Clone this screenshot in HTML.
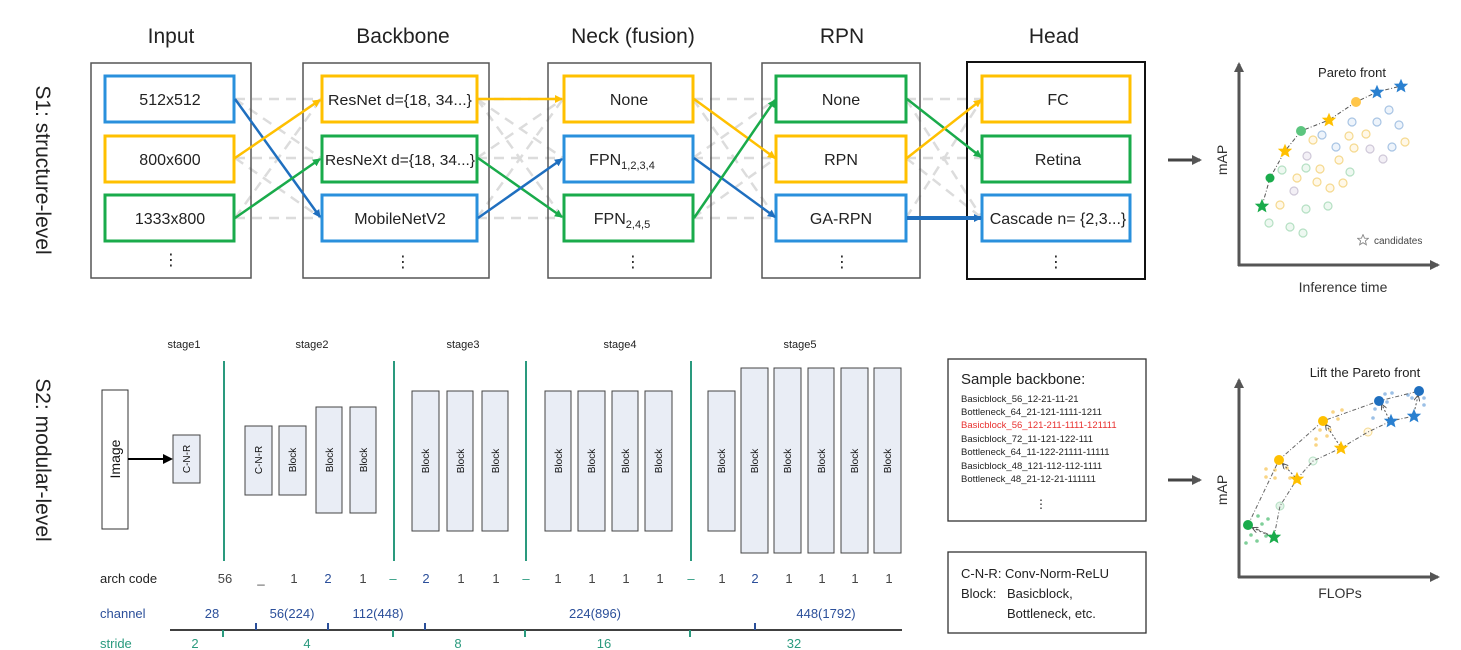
<!DOCTYPE html>
<html><head><meta charset="utf-8"><style>
body{margin:0;background:#fff;}
svg{display:block;font-family:"Liberation Sans","DejaVu Sans",sans-serif;}
</style></head><body>
<svg width="1461" height="650" viewBox="0 0 1461 650" xmlns="http://www.w3.org/2000/svg">
<defs>
<marker id="ab" markerWidth="8" markerHeight="8" refX="7" refY="4" orient="auto" markerUnits="userSpaceOnUse"><path d="M0,0 L8,4 L0,8 z" fill="#1f6fbf"/></marker>
<marker id="ay" markerWidth="8" markerHeight="8" refX="7" refY="4" orient="auto" markerUnits="userSpaceOnUse"><path d="M0,0 L8,4 L0,8 z" fill="#ffc000"/></marker>
<marker id="ag" markerWidth="8" markerHeight="8" refX="7" refY="4" orient="auto" markerUnits="userSpaceOnUse"><path d="M0,0 L8,4 L0,8 z" fill="#1aab4b"/></marker>
<marker id="ak" markerWidth="10" markerHeight="10" refX="8" refY="5" orient="auto" markerUnits="userSpaceOnUse"><path d="M0,0 L10,5 L0,10 z" fill="#555"/></marker>
<marker id="ad" markerWidth="6" markerHeight="6" refX="5" refY="3" orient="auto" markerUnits="userSpaceOnUse"><path d="M0,0 L6,3 L0,6" fill="none" stroke="#555"/></marker>
<marker id="a0" markerWidth="10" markerHeight="10" refX="8" refY="5" orient="auto" markerUnits="userSpaceOnUse"><path d="M0,0 L10,5 L0,10 z" fill="#000"/></marker>
<symbol id="st" viewBox="-10 -10 20 20"><polygon points="0,-9 2.6,-3 9,-2.8 4,1.5 5.6,8 0,4.5 -5.6,8 -4,1.5 -9,-2.8 -2.6,-3"/></symbol>
</defs>

<g font-size="21" text-anchor="middle" fill="#222">
<text x="171" y="43">Input</text><text x="403" y="43">Backbone</text><text x="633" y="43">Neck (fusion)</text><text x="842" y="43">RPN</text><text x="1054" y="43">Head</text>
</g>
<text transform="translate(36,170) rotate(90)" font-size="21" text-anchor="middle" fill="#222">S1: structure-level</text>
<text transform="translate(36,460) rotate(90)" font-size="21" text-anchor="middle" fill="#222">S2: modular-level</text>

<g stroke="#dcdcdc" stroke-width="2.5" stroke-dasharray="10,7" fill="none">
<path d="M235,99H321 M235,158H321 M235,218H321 M235,99L321,158 M235,158L321,218 M235,218L321,99 M235,158L321,99"/>
<path d="M477,99H563 M477,158H563 M477,218H563 M477,99L563,158 M477,158L563,99 M477,218L563,99 M477,99L563,218"/>
<path d="M693,99H776 M693,158H776 M693,218H776 M693,99L776,218 M693,218L776,158 M693,158L776,99"/>
<path d="M906,99H982 M906,158H982 M906,99L982,218 M906,218L982,99 M906,158L982,218"/>
</g>

<g fill="none" stroke="#555" stroke-width="1.5">
<rect x="91" y="63" width="160" height="215"/>
<rect x="303" y="63" width="186" height="215"/>
<rect x="548" y="63" width="163" height="215"/>
<rect x="762" y="63" width="158" height="215"/>
</g>
<rect x="967" y="62" width="178" height="217" fill="none" stroke="#111" stroke-width="2"/>

<g fill="#fff" stroke-width="3">
<rect x="105" y="76" width="129" height="46" stroke="#2a90dc"/>
<rect x="105" y="136" width="129" height="46" stroke="#ffc000"/>
<rect x="105" y="195" width="129" height="46" stroke="#1aab4b"/>
<rect x="322" y="76" width="155" height="46" stroke="#ffc000"/>
<rect x="322" y="136" width="155" height="46" stroke="#1aab4b"/>
<rect x="322" y="195" width="155" height="46" stroke="#2a90dc"/>
<rect x="564" y="76" width="129" height="46" stroke="#ffc000"/>
<rect x="564" y="136" width="129" height="46" stroke="#2a90dc"/>
<rect x="564" y="195" width="129" height="46" stroke="#1aab4b"/>
<rect x="776" y="76" width="130" height="46" stroke="#1aab4b"/>
<rect x="776" y="136" width="130" height="46" stroke="#ffc000"/>
<rect x="776" y="195" width="130" height="46" stroke="#2a90dc"/>
<rect x="982" y="76" width="148" height="46" stroke="#ffc000"/>
<rect x="982" y="136" width="148" height="46" stroke="#1aab4b"/>
<rect x="982" y="195" width="148" height="46" stroke="#2a90dc"/>
</g>
<g font-size="16" text-anchor="middle" fill="#222">
<text x="170" y="105">512x512</text><text x="170" y="165">800x600</text><text x="170" y="224">1333x800</text>
<text x="400" y="105" font-size="15" textLength="144" lengthAdjust="spacingAndGlyphs">ResNet d={18, 34...}</text>
<text x="400" y="165" font-size="15" textLength="150" lengthAdjust="spacingAndGlyphs">ResNeXt d={18, 34...}</text>
<text x="400" y="224">MobileNetV2</text>
<text x="629" y="105">None</text>
<text x="622" y="165">FPN<tspan font-size="11" dy="4">1,2,3,4</tspan></text>
<text x="622" y="224">FPN<tspan font-size="11" dy="4">2,4,5</tspan></text>
<text x="841" y="105">None</text><text x="841" y="165">RPN</text><text x="841" y="224">GA-RPN</text>
<text x="1058" y="105">FC</text><text x="1058" y="165">Retina</text><text x="1058" y="224">Cascade n= {2,3...}</text>
<text x="171" y="265">⋮</text><text x="403" y="267">⋮</text><text x="633" y="267">⋮</text><text x="842" y="267">⋮</text><text x="1056" y="267">⋮</text>
</g>

<g stroke-width="2.5" fill="none">
<line x1="235" y1="99" x2="320" y2="217" stroke="#1f6fbf" marker-end="url(#ab)"/>
<line x1="235" y1="158" x2="320" y2="100" stroke="#ffc000" marker-end="url(#ay)"/>
<line x1="235" y1="218" x2="320" y2="159" stroke="#1aab4b" marker-end="url(#ag)"/>
<line x1="478" y1="99" x2="562" y2="99" stroke="#ffc000" marker-end="url(#ay)"/>
<line x1="478" y1="158" x2="562" y2="217" stroke="#1aab4b" marker-end="url(#ag)"/>
<line x1="478" y1="218" x2="562" y2="159" stroke="#1f6fbf" marker-end="url(#ab)"/>
<line x1="694" y1="99" x2="775" y2="158" stroke="#ffc000" marker-end="url(#ay)"/>
<line x1="694" y1="158" x2="775" y2="217" stroke="#1f6fbf" marker-end="url(#ab)"/>
<line x1="694" y1="218" x2="775" y2="100" stroke="#1aab4b" marker-end="url(#ag)"/>
<line x1="907" y1="99" x2="981" y2="157" stroke="#1aab4b" marker-end="url(#ag)"/>
<line x1="907" y1="158" x2="981" y2="100" stroke="#ffc000" marker-end="url(#ay)"/>
<line x1="907" y1="218" x2="981" y2="218" stroke="#1f6fbf" stroke-width="4" marker-end="url(#ab)"/>
</g>

<line x1="1168" y1="160" x2="1200" y2="160" stroke="#444" stroke-width="3" marker-end="url(#ak)"/>
<line x1="1168" y1="480" x2="1200" y2="480" stroke="#444" stroke-width="3" marker-end="url(#ak)"/>

<g stroke="#555" stroke-width="3" fill="none">
<line x1="1239" y1="266" x2="1239" y2="64" marker-end="url(#ak)"/>
<line x1="1238" y1="265" x2="1438" y2="265" marker-end="url(#ak)"/>
</g>
<text x="1352" y="77" font-size="13" text-anchor="middle" fill="#222">Pareto front</text>
<text transform="translate(1227,160) rotate(-90)" font-size="14" text-anchor="middle" fill="#333">mAP</text>
<text x="1343" y="292" font-size="14" text-anchor="middle" fill="#333">Inference time</text>
<g fill="none" stroke-width="1.2">
<g stroke="#a8c4e4" fill="#eef4fb">
<circle cx="1389" cy="110" r="4"/><circle cx="1352" cy="122" r="4"/><circle cx="1377" cy="122" r="4"/><circle cx="1399" cy="125" r="4"/><circle cx="1322" cy="135" r="4"/><circle cx="1336" cy="147" r="4"/><circle cx="1392" cy="147" r="4"/></g>
<g stroke="#f5d98f" fill="#fff8e8">
<circle cx="1313" cy="140" r="4"/><circle cx="1349" cy="136" r="4"/><circle cx="1366" cy="134" r="4"/><circle cx="1354" cy="148" r="4"/><circle cx="1405" cy="142" r="4"/><circle cx="1339" cy="160" r="4"/><circle cx="1320" cy="169" r="4"/><circle cx="1297" cy="178" r="4"/><circle cx="1317" cy="182" r="4"/><circle cx="1330" cy="188" r="4"/><circle cx="1343" cy="183" r="4"/><circle cx="1280" cy="205" r="4"/></g>
<g stroke="#cfc8d8" fill="#f3f0f6"><circle cx="1370" cy="149" r="4"/><circle cx="1383" cy="159" r="4"/><circle cx="1307" cy="156" r="4"/><circle cx="1294" cy="191" r="4"/></g>
<g stroke="#b5e0c3" fill="#eef8f1">
<circle cx="1282" cy="170" r="4"/><circle cx="1306" cy="168" r="4"/><circle cx="1350" cy="172" r="4"/><circle cx="1306" cy="209" r="4"/><circle cx="1328" cy="206" r="4"/><circle cx="1269" cy="223" r="4"/><circle cx="1290" cy="227" r="4"/><circle cx="1303" cy="233" r="4"/></g>
</g>
<path d="M1262,206 L1270,178 L1285,151 L1301,131 L1329,120 L1356,102 L1377,92 L1401,86" fill="none" stroke="#555" stroke-width="1" stroke-dasharray="4,2,1,2"/>
<circle cx="1270" cy="178" r="4.5" fill="#1aab4b"/><circle cx="1301" cy="131" r="5" fill="#5cc57f"/><circle cx="1356" cy="102" r="5" fill="#ffc64a"/>
<use href="#st" x="1254" y="198" width="16" height="16" fill="#1aab4b"/>
<use href="#st" x="1277" y="143" width="16" height="16" fill="#ffc000"/>
<use href="#st" x="1321" y="112" width="16" height="16" fill="#ffc000"/>
<use href="#st" x="1369" y="84" width="16" height="16" fill="#2a80d0"/>
<use href="#st" x="1393" y="78" width="16" height="16" fill="#2a80d0"/>
<use href="#st" x="1357" y="234" width="12" height="12" fill="none" stroke="#888" stroke-width="1.5"/>
<text x="1374" y="244" font-size="10" fill="#444">candidates</text>

<g stroke="#555" stroke-width="3" fill="none">
<line x1="1239" y1="578" x2="1239" y2="380" marker-end="url(#ak)"/>
<line x1="1238" y1="577" x2="1438" y2="577" marker-end="url(#ak)"/>
</g>
<text x="1365" y="377" font-size="13" text-anchor="middle" fill="#222">Lift the Pareto front</text>
<text transform="translate(1227,490) rotate(-90)" font-size="14" text-anchor="middle" fill="#333">mAP</text>
<text x="1340" y="598" font-size="14" text-anchor="middle" fill="#333">FLOPs</text>
<g fill="#7fcf99"><circle cx="1258" cy="516" r="1.8"/><circle cx="1268" cy="519" r="1.8"/><circle cx="1262" cy="524" r="1.8"/><circle cx="1251" cy="535" r="1.8"/><circle cx="1257" cy="541" r="1.8"/><circle cx="1246" cy="543" r="1.8"/><circle cx="1266" cy="536" r="1.8"/></g>
<circle cx="1280" cy="506" r="4" fill="#e3f3e8" stroke="#b5e0c3"/>
<g fill="#f9d585"><circle cx="1275" cy="470" r="1.8"/><circle cx="1287" cy="468" r="1.8"/><circle cx="1275" cy="478" r="1.8"/><circle cx="1290" cy="478" r="1.8"/><circle cx="1266" cy="477" r="1.8"/><circle cx="1266" cy="469" r="1.8"/><circle cx="1320" cy="430" r="1.8"/><circle cx="1330" cy="430" r="1.8"/><circle cx="1316" cy="439" r="1.8"/><circle cx="1327" cy="436" r="1.8"/><circle cx="1333" cy="412" r="1.8"/><circle cx="1342" cy="410" r="1.8"/><circle cx="1338" cy="419" r="1.8"/><circle cx="1316" cy="445" r="1.8"/></g>
<circle cx="1313" cy="461" r="4" fill="#eef8f1" stroke="#b5e0c3"/>
<circle cx="1368" cy="432" r="4" fill="#fff8e8" stroke="#f5d98f"/>
<g fill="#9cc0e6"><circle cx="1385" cy="394" r="1.8"/><circle cx="1392" cy="393" r="1.8"/><circle cx="1387" cy="402" r="1.8"/><circle cx="1375" cy="409" r="1.8"/><circle cx="1373" cy="418" r="1.8"/><circle cx="1408" cy="395" r="1.8"/><circle cx="1412" cy="398" r="1.8"/><circle cx="1424" cy="398" r="1.8"/><circle cx="1424" cy="405" r="1.8"/></g>
<g fill="none" stroke="#666" stroke-width="1" stroke-dasharray="4,2,1,2">
<path d="M1248,525 L1279,460 L1323,421 L1379,401 L1419,391"/>
<path d="M1274,537 L1280,506 L1297,479 L1313,461 L1341,448 L1368,432 L1391,421 L1414,416"/>
<path d="M1248,525 L1274,537"/>
</g>
<g stroke="#555" stroke-width="1" fill="none" stroke-dasharray="2,2">
<line x1="1272" y1="537" x2="1253" y2="528" marker-end="url(#ad)"/>
<line x1="1295" y1="477" x2="1283" y2="464" marker-end="url(#ad)"/>
<line x1="1340" y1="446" x2="1326" y2="425" marker-end="url(#ad)"/>
<line x1="1389" y1="419" x2="1382" y2="405" marker-end="url(#ad)"/>
<line x1="1414" y1="413" x2="1418" y2="396" marker-end="url(#ad)"/>
</g>
<circle cx="1248" cy="525" r="5" fill="#1aab4b"/><circle cx="1279" cy="460" r="5" fill="#ffc000"/><circle cx="1323" cy="421" r="5" fill="#ffc000"/><circle cx="1379" cy="401" r="5" fill="#1f6fbf"/><circle cx="1419" cy="391" r="5" fill="#1f6fbf"/>
<use href="#st" x="1266" y="529" width="16" height="16" fill="#1aab4b"/>
<use href="#st" x="1289" y="471" width="16" height="16" fill="#ffc000"/>
<use href="#st" x="1333" y="440" width="16" height="16" fill="#ffc000"/>
<use href="#st" x="1383" y="413" width="16" height="16" fill="#2a80d0"/>
<use href="#st" x="1406" y="408" width="16" height="16" fill="#2a80d0"/>

<rect x="948" y="359" width="198" height="162" fill="none" stroke="#333" stroke-width="1.3"/>
<text x="961" y="384" font-size="15" fill="#222">Sample backbone:</text>
<g font-size="9.5" fill="#222">
<text x="961" y="402">Basicblock_56_12-21-11-21</text>
<text x="961" y="415">Bottleneck_64_21-121-1111-1211</text>
<text x="961" y="428" fill="#e8312f">Basicblock_56_121-211-1111-121111</text>
<text x="961" y="442">Basicblock_72_11-121-122-111</text>
<text x="961" y="455">Bottleneck_64_11-122-21111-11111</text>
<text x="961" y="469">Basicblock_48_121-112-112-1111</text>
<text x="961" y="482">Bottleneck_48_21-12-21-111111</text>
</g>
<text x="1041" y="508" font-size="12" text-anchor="middle" fill="#222">⋮</text>
<rect x="948" y="552" width="198" height="81" fill="none" stroke="#333" stroke-width="1.3"/>
<g font-size="13" fill="#222">
<text x="961" y="578">C-N-R: Conv-Norm-ReLU</text>
<text x="961" y="598">Block:</text><text x="1007" y="598">Basicblock,</text>
<text x="1007" y="618">Bottleneck, etc.</text>
</g>

<g font-size="11" text-anchor="middle" fill="#222">
<text x="184" y="348">stage1</text><text x="312" y="348">stage2</text><text x="463" y="348">stage3</text><text x="620" y="348">stage4</text><text x="800" y="348">stage5</text>
</g>
<g stroke="#2a9a7e" stroke-width="2"><line x1="224" y1="361" x2="224" y2="561"/><line x1="394" y1="361" x2="394" y2="561"/><line x1="526" y1="361" x2="526" y2="561"/><line x1="691" y1="361" x2="691" y2="561"/></g>
<rect x="102" y="390" width="26" height="139" fill="#fff" stroke="#333" stroke-width="1"/>
<text transform="translate(120,459) rotate(-90)" font-size="14" text-anchor="middle" fill="#111">Image</text>
<line x1="128" y1="459" x2="171" y2="459" stroke="#000" stroke-width="2" marker-end="url(#a0)"/>
<g fill="#e9edf5" stroke="#444" stroke-width="1">
<rect x="173" y="435" width="27" height="48"/>
<rect x="245" y="426" width="27" height="69"/><rect x="279" y="426" width="27" height="69"/>
<rect x="316" y="407" width="26" height="106"/><rect x="350" y="407" width="26" height="106"/>
<rect x="412" y="391" width="27" height="140"/><rect x="447" y="391" width="26" height="140"/><rect x="482" y="391" width="26" height="140"/>
<rect x="545" y="391" width="26" height="140"/><rect x="578" y="391" width="27" height="140"/><rect x="612" y="391" width="26" height="140"/><rect x="645" y="391" width="27" height="140"/>
<rect x="708" y="391" width="27" height="140"/><rect x="741" y="368" width="27" height="185"/><rect x="774" y="368" width="27" height="185"/><rect x="808" y="368" width="26" height="185"/><rect x="841" y="368" width="27" height="185"/><rect x="874" y="368" width="27" height="185"/>
</g>
<g font-size="10" text-anchor="middle" fill="#111">
<text transform="translate(190,459) rotate(-90)">C-N-R</text>
<text transform="translate(262,460) rotate(-90)">C-N-R</text>
<text transform="translate(296,460) rotate(-90)">Block</text>
<text transform="translate(333,460) rotate(-90)">Block</text><text transform="translate(367,460) rotate(-90)">Block</text>
<text transform="translate(429,461) rotate(-90)">Block</text><text transform="translate(464,461) rotate(-90)">Block</text><text transform="translate(499,461) rotate(-90)">Block</text>
<text transform="translate(562,461) rotate(-90)">Block</text><text transform="translate(595,461) rotate(-90)">Block</text><text transform="translate(629,461) rotate(-90)">Block</text><text transform="translate(662,461) rotate(-90)">Block</text>
<text transform="translate(725,461) rotate(-90)">Block</text><text transform="translate(758,461) rotate(-90)">Block</text><text transform="translate(791,461) rotate(-90)">Block</text><text transform="translate(825,461) rotate(-90)">Block</text><text transform="translate(858,461) rotate(-90)">Block</text><text transform="translate(891,461) rotate(-90)">Block</text>
</g>

<text x="100" y="583" font-size="13" fill="#222">arch code</text>
<g font-size="13" text-anchor="middle" fill="#444">
<text x="225" y="583">56</text><text x="261" y="583">_</text><text x="294" y="583">1</text><text x="328" y="583" fill="#2b4f9a">2</text><text x="363" y="583">1</text><text x="393" y="583" fill="#2a9a7e">–</text>
<text x="426" y="583" fill="#2b4f9a">2</text><text x="461" y="583">1</text><text x="496" y="583">1</text><text x="526" y="583" fill="#2a9a7e">–</text>
<text x="558" y="583">1</text><text x="592" y="583">1</text><text x="626" y="583">1</text><text x="660" y="583">1</text><text x="691" y="583" fill="#2a9a7e">–</text>
<text x="722" y="583">1</text><text x="755" y="583" fill="#2b4f9a">2</text><text x="789" y="583">1</text><text x="822" y="583">1</text><text x="855" y="583">1</text><text x="889" y="583">1</text>
</g>
<text x="100" y="618" font-size="13" fill="#2b4f9a">channel</text>
<g font-size="13" text-anchor="middle" fill="#2b4f9a">
<text x="212" y="618">28</text><text x="292" y="618">56(224)</text><text x="378" y="618">112(448)</text><text x="595" y="618">224(896)</text><text x="826" y="618">448(1792)</text>
</g>
<line x1="170" y1="630" x2="902" y2="630" stroke="#000" stroke-width="1.5"/>
<g stroke="#2b4f9a" stroke-width="2"><line x1="256" y1="630" x2="256" y2="623"/><line x1="328" y1="630" x2="328" y2="623"/><line x1="425" y1="630" x2="425" y2="623"/><line x1="755" y1="630" x2="755" y2="623"/></g>
<g stroke="#2a9a7e" stroke-width="2"><line x1="223" y1="630" x2="223" y2="637"/><line x1="393" y1="630" x2="393" y2="637"/><line x1="525" y1="630" x2="525" y2="637"/><line x1="690" y1="630" x2="690" y2="637"/></g>
<text x="100" y="648" font-size="13" fill="#2a9a7e">stride</text>
<g font-size="13" text-anchor="middle" fill="#2a9a7e">
<text x="195" y="648">2</text><text x="307" y="648">4</text><text x="458" y="648">8</text><text x="604" y="648">16</text><text x="794" y="648">32</text>
</g>
</svg>
</body></html>
